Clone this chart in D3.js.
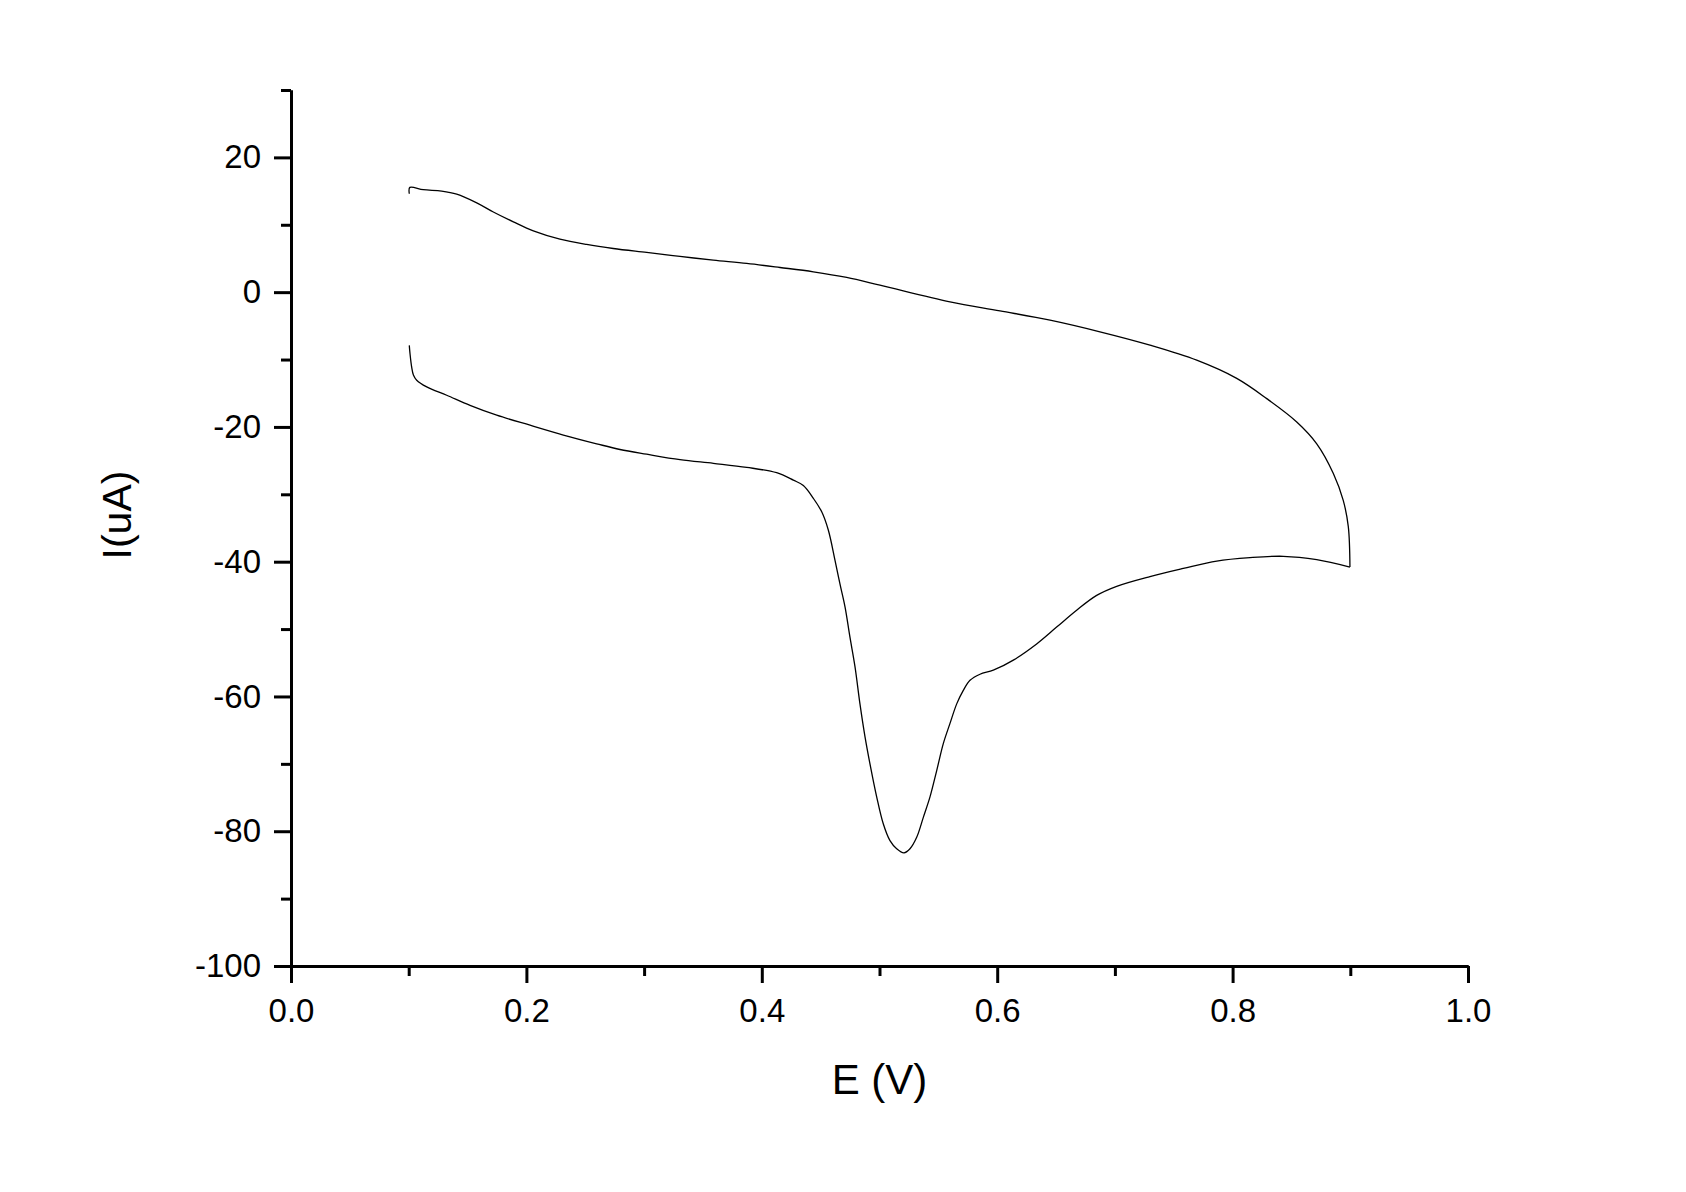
<!DOCTYPE html>
<html>
<head>
<meta charset="utf-8">
<script src="https://cdn.jsdelivr.net/npm/d3@7"></script>
<style>
  body { margin: 0; background: #fff; }
  svg text { font-family: "Liberation Sans", Arial, sans-serif; fill: #000; }
</style>
</head>
<body>
<svg id="svg"></svg>
<script>
// cyclic voltammogram: potential (V) and current (uA)
// forward sweep 0.1 -> 0.9 then back down to 0.1
const potential = [
  0.1005, 0.1010, 0.1124, 0.1280, 0.1408, 0.1578, 0.1719, 0.1889, 0.2059, 0.2285,
  0.2512, 0.2738, 0.3022, 0.3305, 0.3588, 0.3872, 0.4155, 0.4438, 0.4721, 0.5004,
  0.5599, 0.6024, 0.6449, 0.6873, 0.7298, 0.7695, 0.8035, 0.8290, 0.8545, 0.8715,
  0.8856, 0.8940, 0.8983, 0.8997,
  0.8715, 0.8431, 0.8148, 0.7865, 0.7581, 0.7298, 0.7015, 0.6845, 0.6675, 0.6505,
  0.6335, 0.6137, 0.5967, 0.5854, 0.5769, 0.5712, 0.5656, 0.5599, 0.5542, 0.5486,
  0.5429, 0.5373, 0.5316, 0.5259, 0.5208, 0.5146, 0.5089, 0.5032, 0.4976, 0.4919,
  0.4877, 0.4834, 0.4792, 0.4749, 0.4707, 0.4664, 0.4622, 0.4565, 0.4509, 0.4438,
  0.4353, 0.4268, 0.4126, 0.3872, 0.3588, 0.3305, 0.3022, 0.2795, 0.2597, 0.2314,
  0.2031, 0.1748, 0.1521, 0.1323, 0.1153, 0.1068, 0.1040, 0.1025, 0.1011, 0.1005
];
const current = [
  14.6, 15.55, 15.2, 15.0, 14.55, 13.26, 11.9, 10.44, 9.1, 7.87,
  7.08, 6.48, 5.89, 5.3, 4.75, 4.26, 3.66, 3.02, 2.18, 1.04,
  -1.44, -2.78, -4.16, -5.89, -7.87, -10.1, -12.8, -15.8, -19.26, -22.5,
  -26.9, -30.9, -34.8, -40.8,
  -39.7, -39.2, -39.4, -39.9, -41.0, -42.2, -43.65, -45.0, -47.2, -49.7,
  -52.2, -54.6, -56.1, -56.7, -57.6, -59.1, -61.1, -64.0, -67.0, -71.0,
  -74.9, -77.9, -80.9, -82.6, -83.2, -82.6, -81.4, -78.9, -74.9, -70.0,
  -66.0, -61.1, -55.6, -51.2, -46.7, -43.3, -39.8, -35.3, -32.6, -30.6,
  -28.7, -27.9, -26.8, -26.0, -25.4, -24.85, -24.05, -23.35, -22.5, -21.2,
  -19.75, -18.26, -16.8, -15.3, -14.06, -13.07, -12.3, -11.1, -9.1, -7.9
];
// index of the switching potential (0.9 V)
const turnIndex = 33;

const xMajor = [0, 0.2, 0.4, 0.6, 0.8, 1.0];
const xMinor = [0.1, 0.3, 0.5, 0.7, 0.9];
const yMajor = [-100, -80, -60, -40, -20, 0, 20];
const yMinor = [-90, -70, -50, -30, -10, 10, 30];

const width = 1686;
const height = 1192;

let svg = d3.select("#svg")
    .attr("width", width)
    .attr("height", height);

const plotLeft = 291, plotRight = 1468, plotTop = 90, plotBottom = 966;

let xScale = d3.scaleLinear().domain([0, 1]).range([plotLeft, plotRight]);
let yScale = d3.scaleLinear().domain([-100, 30]).range([plotBottom, plotTop]);

// minor ticks first, no labels
svg.append("g")
    .attr("transform", `translate(0,${plotBottom})`)
    .call(d3.axisBottom(xScale).tickValues(xMinor).tickSize(10).tickSizeOuter(0).tickFormat(""));
svg.append("g")
    .attr("transform", `translate(${plotLeft},0)`)
    .call(d3.axisLeft(yScale).tickValues(yMinor).tickSize(10).tickSizeOuter(0).tickFormat(""));

// major ticks with labels
svg.append("g")
    .attr("class", "x-axis")
    .attr("transform", `translate(0,${plotBottom})`)
    .call(d3.axisBottom(xScale).tickValues(xMajor).tickSize(17).tickSizeOuter(0)
        .tickPadding(16).tickFormat(d3.format(".1f")));

svg.append("g")
    .attr("class", "y-axis")
    .attr("transform", `translate(${plotLeft},0)`)
    .call(d3.axisLeft(yScale).tickValues(yMajor).tickSize(17).tickSizeOuter(0)
        .tickPadding(13).tickFormat(d => d));

svg.selectAll(".domain, .tick line")
    .attr("stroke", "#000")
    .attr("stroke-width", 3);
svg.selectAll(".tick text")
    .style("font-size", "33px")
    .attr("fill", "#000");

// the curve, drawn as two sweeps so the switching point stays sharp
const line = d3.line()
    .x(i => xScale(potential[i]))
    .y(i => yScale(current[i]))
    .curve(d3.curveCatmullRom);

const idx = d3.range(potential.length);
const sweeps = [idx.slice(0, turnIndex + 1), idx.slice(turnIndex)];

svg.selectAll(".sweep")
    .data(sweeps)
    .enter().append("path")
    .attr("class", "sweep")
    .attr("d", line)
    .attr("fill", "none")
    .attr("stroke", "#000")
    .attr("stroke-width", 1.3);

// axis titles
svg.append("text")
    .attr("x", (plotLeft + plotRight) / 2)
    .attr("y", 1094)
    .attr("text-anchor", "middle")
    .style("font-size", "42px")
    .text("E (V)");

svg.append("text")
    .attr("transform", "translate(131,515) rotate(-90)")
    .attr("text-anchor", "middle")
    .style("font-size", "41px")
    .text("I(uA)");
</script>
</body>
</html>
